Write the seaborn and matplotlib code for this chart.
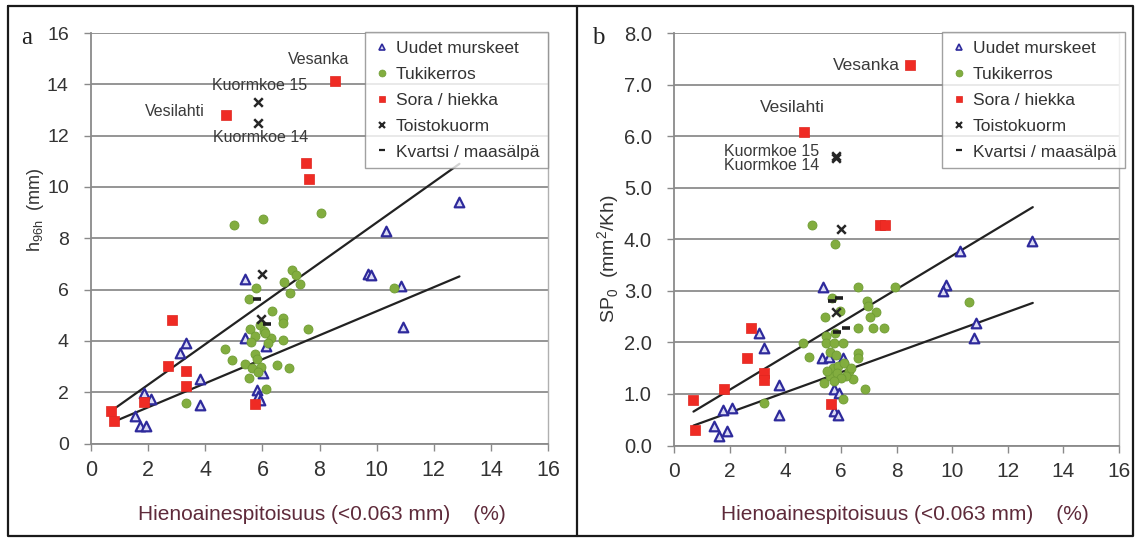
import numpy as np
import pandas as pd
import matplotlib
matplotlib.use("Agg")
import matplotlib.pyplot as plt
from matplotlib.lines import Line2D
import seaborn as sns

sns.set_theme(style="white")
plt.rcParams["font.family"] = ["Liberation Sans", "DejaVu Sans"]

# ---- panel a: h96h vs fines content ----
a_murske_x = [5.40, 3.32, 3.12, 3.82, 3.82, 1.85, 2.11, 1.54, 1.70, 1.93, 5.38, 6.13,
              6.01, 5.81, 5.85, 5.93, 12.89, 10.32, 9.70, 9.82, 10.84, 10.94]
a_murske_y = [6.41, 3.92, 3.54, 2.50, 1.51, 1.98, 1.72, 1.09, 0.68, 0.70, 4.13, 3.80,
              2.75, 2.10, 1.85, 1.68, 9.43, 8.28, 6.62, 6.55, 6.15, 4.54]
a_tuki_x = [5.02, 6.01, 8.05, 10.61, 5.79, 5.52, 7.02, 7.16, 6.75, 7.33, 6.98, 6.34, 6.73,
            6.73, 7.60, 6.73, 6.30, 5.58, 5.90, 6.05, 5.75, 5.60, 6.10, 4.70, 4.94, 5.40,
            5.75, 5.80, 5.64, 5.54, 6.51, 6.93, 6.13, 3.32, 5.95, 5.85, 6.20]
a_tuki_y = [8.52, 8.74, 8.97, 6.08, 6.08, 5.65, 6.78, 6.56, 6.28, 6.21, 5.85, 5.17, 4.91,
            4.68, 4.47, 4.02, 4.13, 4.47, 4.60, 4.40, 4.20, 3.95, 4.30, 3.70, 3.27, 3.09,
            3.50, 3.30, 2.95, 2.55, 3.07, 2.94, 2.12, 1.57, 3.00, 2.80, 3.90]
a_sora_x = [0.70, 0.82, 1.84, 2.84, 2.69, 3.31, 3.31, 5.73, 4.73, 7.53, 7.63, 8.53]
a_sora_y = [1.26, 0.86, 1.60, 4.83, 3.01, 2.84, 2.24, 1.55, 12.79, 10.93, 10.30, 14.14]
a_toisto_x = [5.85, 5.85, 5.99, 5.95]
a_toisto_y = [13.31, 12.51, 6.59, 4.85]
a_kvartsi_x = [5.81, 6.16]
a_kvartsi_y = [5.65, 4.64]
# fitted trend lines: (x start, x end, intercept, slope)
a_fit_upper = (0.70, 12.90, 0.71, 0.79)
a_fit_lower = (0.80, 12.90, 0.475, 0.468)

# ---- panel b: SP0 vs fines content ----
b_murske_x = [5.35, 3.06, 3.24, 3.78, 3.78, 1.77, 2.08, 1.45, 1.63, 1.90, 5.31, 5.59,
              6.07, 5.77, 5.95, 5.77, 5.88, 10.29, 12.87, 9.77, 9.67, 10.86, 10.77]
b_murske_y = [3.08, 2.18, 1.89, 1.18, 0.60, 0.68, 0.72, 0.37, 0.18, 0.29, 1.70, 1.71,
              1.70, 1.09, 1.02, 0.66, 0.59, 3.77, 3.96, 3.12, 2.99, 2.38, 2.09]
b_tuki_x = [4.95, 5.79, 6.63, 7.95, 5.67, 6.95, 6.99, 7.27, 7.05, 5.43, 5.97, 6.63, 7.17,
            7.55, 5.79, 5.47, 4.65, 5.46, 5.76, 6.06, 5.60, 5.83, 4.87, 6.63, 6.63, 5.40,
            6.45, 6.87, 6.07, 3.25, 10.59, 5.70, 5.90, 6.10, 6.30, 5.60, 5.85, 6.20, 6.00,
            5.75, 6.35, 5.50]
b_tuki_y = [4.28, 3.90, 3.08, 3.08, 2.86, 2.81, 2.71, 2.59, 2.49, 2.49, 2.60, 2.28, 2.28,
            2.28, 2.18, 2.12, 1.99, 1.99, 1.99, 1.99, 1.82, 1.75, 1.71, 1.80, 1.70, 1.21,
            1.29, 1.10, 0.90, 0.83, 2.78, 1.50, 1.55, 1.60, 1.45, 1.35, 1.40, 1.35, 1.30,
            1.25, 1.50, 1.45]
b_sora_x = [8.49, 4.69, 7.42, 7.60, 0.67, 0.76, 1.80, 2.76, 2.61, 3.25, 3.25, 5.64]
b_sora_y = [7.37, 6.08, 4.27, 4.27, 0.89, 0.31, 1.10, 2.27, 1.70, 1.41, 1.28, 0.81]
b_toisto_x = [5.82, 5.84, 6.01, 5.83]
b_toisto_y = [5.62, 5.58, 4.20, 2.58]
b_kvartsi_x = [5.95, 5.67, 6.19, 5.85]
b_kvartsi_y = [2.87, 2.80, 2.28, 2.21]
b_fit_upper = (0.70, 12.90, 0.43, 0.325)
b_fit_lower = (0.70, 12.90, 0.25, 0.195)

group_names = ["Uudet murskeet", "Tukikerros", "Sora / hiekka", "Toistokuorm", "Kvartsi / maasälpä"]
x_ticks = [0, 2, 4, 6, 8, 10, 12, 14, 16]
a_yticks = [0, 2, 4, 6, 8, 10, 12, 14, 16]
b_yticks = [0.0, 1.0, 2.0, 3.0, 4.0, 5.0, 6.0, 7.0, 8.0]
x_title = "Hienoainespitoisuus (<0.063 mm)    (%)"

styles = {
    "Uudet murskeet": dict(marker="^", s=48, facecolor="#dcdcf4", edgecolor="#2e2a9c", linewidth=1.6),
    "Tukikerros": dict(marker="o", s=42, facecolor="#82ad3f", edgecolor="#6f9c34", linewidth=0.6),
    "Sora / hiekka": dict(marker="s", s=56, facecolor="#ef2b24", edgecolor="#e0261f", linewidth=0.5),
    "Toistokuorm": dict(marker="x", s=38, color="#262626", linewidth=1.8),
    "Kvartsi / maasälpä": dict(marker="_", s=34, color="#1e1e1e", linewidth=2.6),
}


def build_frame(groups):
    parts = []
    for name, (xs, ys) in zip(group_names, groups):
        parts.append(pd.DataFrame({"x": xs, "y": ys, "ryhmä": name}))
    return pd.concat(parts, ignore_index=True)


df_a = build_frame([(a_murske_x, a_murske_y), (a_tuki_x, a_tuki_y), (a_sora_x, a_sora_y),
                    (a_toisto_x, a_toisto_y), (a_kvartsi_x, a_kvartsi_y)])
df_b = build_frame([(b_murske_x, b_murske_y), (b_tuki_x, b_tuki_y), (b_sora_x, b_sora_y),
                    (b_toisto_x, b_toisto_y), (b_kvartsi_x, b_kvartsi_y)])

W, H = 1138, 542
fig = plt.figure(figsize=(W / 100, H / 100), dpi=100)
fig.patch.set_facecolor("white")


def px_axes(x0, x1, ytop, ybot):
    return fig.add_axes([x0 / W, 1 - ybot / H, (x1 - x0) / W, (ybot - ytop) / H])


ax_a = px_axes(91, 548, 33, 443.5)
ax_b = px_axes(674, 1119, 33, 445.5)


def draw_points(ax, df):
    for name in group_names:
        sub = df[df["ryhmä"] == name]
        sns.scatterplot(data=sub, x="x", y="y", ax=ax, legend=False, zorder=4, **styles[name])


def draw_fit(ax, fit):
    x0, x1, b0, b1 = fit
    xs = np.linspace(x0, x1, 50)
    sns.lineplot(x=xs, y=b0 + b1 * xs, ax=ax, color="#222222", linewidth=1.6, zorder=3)


def style_axes(ax, yticks, ylim, fmt, tick_fs, xtick_fs):
    ax.set_xlim(0, 16)
    ax.set_ylim(*ylim)
    ax.set_xticks(x_ticks)
    ax.set_yticks(yticks)
    ax.set_yticklabels([fmt.format(v) for v in yticks], fontsize=tick_fs, color="#333333")
    ax.set_xticklabels([str(v) for v in x_ticks], fontsize=xtick_fs, color="#333333")
    ax.grid(axis="y", color="#8c8c8c", linewidth=1.3)
    ax.grid(axis="x", visible=False)
    ax.set_axisbelow(True)
    for side in ["left", "bottom"]:
        ax.spines[side].set_color("#8a8a8a")
        ax.spines[side].set_linewidth(1.3)
    ax.spines["top"].set_visible(False)
    ax.spines["right"].set_color("#b0b0b0")
    ax.spines["right"].set_linewidth(1.0)
    ax.tick_params(axis="both", which="both", direction="out", length=5, width=1.0,
                   color="#8a8a8a", left=True, bottom=True)
    ax.tick_params(axis="y", pad=11)
    ax.tick_params(axis="x", pad=7)
    ax.set_xlabel("")
    ax.set_ylabel("")


def add_legend(ax, anchor):
    handles = []
    for name in group_names:
        st = styles[name]
        if st["marker"] in ("x", "_"):
            h = Line2D([], [], linestyle="none", marker=st["marker"], markersize=5,
                       markeredgewidth=1.6, color=st["color"])
        else:
            h = Line2D([], [], linestyle="none", marker=st["marker"], markersize=5,
                       markerfacecolor=st["facecolor"], markeredgecolor=st["edgecolor"],
                       markeredgewidth=1.2 if st["marker"] == "^" else 0.5)
        handles.append(h)
    leg = ax.legend(handles, group_names, loc="upper right", bbox_to_anchor=anchor,
                    bbox_transform=fig.transFigure, frameon=True, fancybox=False,
                    fontsize=12.5, handlelength=1.0, handletextpad=0.3, labelspacing=0.62,
                    borderpad=0.5, borderaxespad=0)
    leg.get_frame().set_edgecolor("#8a8a8a")
    leg.get_frame().set_linewidth(1.0)
    for t in leg.get_texts():
        t.set_color("#333333")
    leg.set_zorder(6)


# panel a
draw_fit(ax_a, a_fit_upper)
draw_fit(ax_a, a_fit_lower)
draw_points(ax_a, df_a)
style_axes(ax_a, a_yticks, (0, 16), "{:d}", 14, 15.5)
add_legend(ax_a, (548 / W, 1 - 32 / H))
ann_kw = dict(fontsize=11.5, color="#3a3a3a", ha="center", va="center")
ax_a.annotate("Vesanka", xy=(8.53, 14.14), xytext=(318.5, H - 59), textcoords="figure pixels", **ann_kw)
ax_a.annotate("Kuormkoe 15", xy=(5.85, 13.31), xytext=(259.5, H - 86), textcoords="figure pixels", **ann_kw)
ax_a.annotate("Vesilahti", xy=(4.73, 12.79), xytext=(175, H - 111), textcoords="figure pixels", **ann_kw)
ax_a.annotate("Kuormkoe 14", xy=(5.85, 12.51), xytext=(261, H - 137), textcoords="figure pixels", **ann_kw)

# panel b
draw_fit(ax_b, b_fit_upper)
draw_fit(ax_b, b_fit_lower)
draw_points(ax_b, df_b)
style_axes(ax_b, b_yticks, (0, 8), "{:.1f}", 14.5, 15)
add_legend(ax_b, (1125 / W, 1 - 32 / H))
ax_b.annotate("Vesanka", xy=(8.49, 7.37), xytext=(866.5, H - 65), textcoords="figure pixels",
              **dict(ann_kw, fontsize=12.5))
ax_b.annotate("Vesilahti", xy=(4.69, 6.08), xytext=(792, H - 108), textcoords="figure pixels",
              **dict(ann_kw, fontsize=12.5))
ax_b.annotate("Kuormkoe 15", xy=(5.82, 5.62), xytext=(771.5, H - 151), textcoords="figure pixels", **ann_kw)
ax_b.annotate("Kuormkoe 14", xy=(5.84, 5.58), xytext=(771.5, H - 166), textcoords="figure pixels", **ann_kw)

# axis titles
label_col = "#5e2a3a"
fig.text(322 / W, 1 - 514 / H, x_title, ha="center", va="center", fontsize=15, color=label_col)
fig.text(905 / W, 1 - 514 / H, x_title, ha="center", va="center", fontsize=15, color=label_col)
fig.text(35 / W, 1 - 210 / H, r"h$_\mathregular{96h}$  (mm)", rotation=90, ha="center", va="center",
         fontsize=13, color="#333333")
fig.text(609 / W, 1 - 258 / H, r"SP$_\mathregular{0}$  (mm$^\mathregular{2}$/Kh)", rotation=90,
         ha="center", va="center", fontsize=14, color="#333333")

# panel letters
fig.text(27 / W, 1 - 38 / H, "a", fontsize=18, family=["Liberation Serif", "DejaVu Serif"],
         color="#222222", ha="center", va="center")
fig.text(598 / W, 1 - 38 / H, "b", fontsize=18, family=["Liberation Serif", "DejaVu Serif"],
         color="#222222", ha="center", va="center")


# panel frames
def frame_line(xs, ys, col="#1a1a1a", lw=1.6):
    fig.add_artist(Line2D([x / W for x in xs], [1 - y / H for y in ys], color=col,
                          linewidth=lw, transform=fig.transFigure))


frame_line([8, 1133, 1133, 8, 8], [6, 6, 536, 536, 6])
frame_line([577, 577], [6, 536])

fig.savefig("out.png", dpi=100, facecolor="white")
